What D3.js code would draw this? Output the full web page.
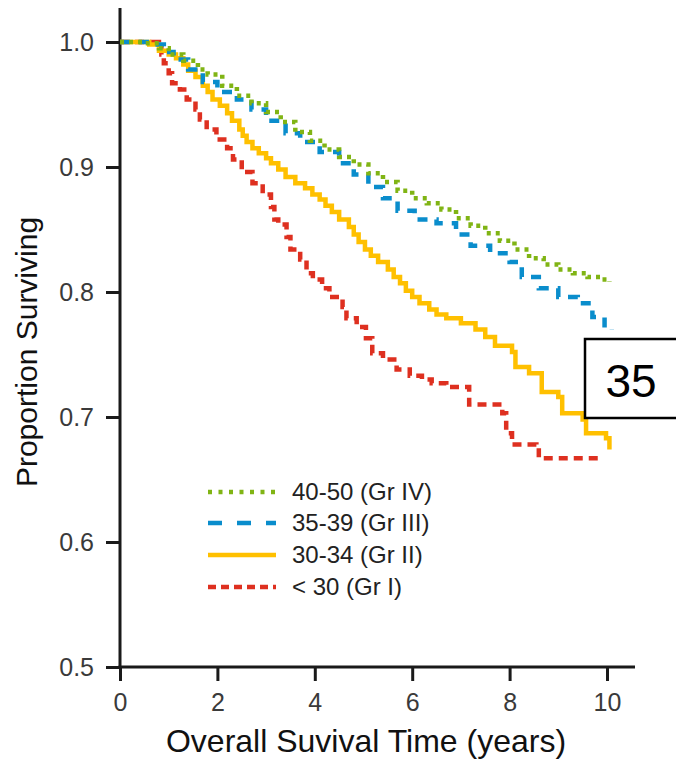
<!DOCTYPE html>
<html>
<head>
<meta charset="utf-8">
<script src="https://cdn.jsdelivr.net/npm/d3@7"></script>
<style>
  body { margin: 0; background: #fff; }
  svg { display: block; font-family: Arial, "Liberation Sans", sans-serif; }
</style>
</head>
<body>
<div id="chart"></div>
<script>
// Kaplan-Meier curves by age group, [years, proportion surviving]
const grIV = [[0,1.0],[0.5,0.999],[0.8,0.995],[1.0,0.99],[1.3,0.985],[1.6,0.978],[1.8,0.974],[2.1,0.965],[2.4,0.957],[2.7,0.951],[3.0,0.944],[3.3,0.936],[3.6,0.928],[3.9,0.921],[4.2,0.914],[4.5,0.908],[4.8,0.902],[5.1,0.895],[5.4,0.888],[5.7,0.881],[6.0,0.875],[6.3,0.871],[6.6,0.866],[6.9,0.859],[7.2,0.853],[7.5,0.847],[7.8,0.841],[8.1,0.834],[8.4,0.827],[8.7,0.822],[9.0,0.818],[9.3,0.815],[9.6,0.812],[9.9,0.81],[10.05,0.808]]
const grIII = [[0,1.0],[0.6,0.998],[0.9,0.992],[1.1,0.986],[1.4,0.978],[1.7,0.968],[2.0,0.96],[2.4,0.954],[2.7,0.946],[3.0,0.937],[3.4,0.927],[3.7,0.92],[4.1,0.912],[4.5,0.903],[4.8,0.894],[5.1,0.884],[5.4,0.875],[5.7,0.865],[6.05,0.858],[6.5,0.855],[6.9,0.846],[7.2,0.837],[7.6,0.831],[8.0,0.824],[8.25,0.812],[8.6,0.803],[9.0,0.796],[9.4,0.791],[9.7,0.78],[9.95,0.771],[10.1,0.77]]
const grII = [[0,1.0],[0.6,0.998],[0.8,0.993],[1.0,0.99],[1.15,0.987],[1.3,0.982],[1.4,0.977],[1.55,0.972],[1.7,0.965],[1.8,0.96],[1.9,0.954],[2.05,0.949],[2.2,0.943],[2.3,0.937],[2.45,0.93],[2.52,0.925],[2.6,0.92],[2.72,0.915],[2.85,0.911],[3.0,0.907],[3.1,0.903],[3.25,0.898],[3.4,0.892],[3.6,0.887],[3.8,0.883],[3.95,0.878],[4.1,0.874],[4.22,0.869],[4.35,0.864],[4.5,0.858],[4.7,0.852],[4.8,0.846],[4.9,0.84],[5.03,0.834],[5.15,0.829],[5.3,0.824],[5.5,0.818],[5.62,0.812],[5.75,0.807],[5.87,0.801],[6.0,0.796],[6.15,0.791],[6.35,0.786],[6.5,0.782],[6.7,0.779],[7.0,0.775],[7.3,0.77],[7.5,0.764],[7.7,0.757],[8.05,0.752],[8.12,0.74],[8.4,0.735],[8.66,0.72],[9.0,0.716],[9.08,0.703],[9.5,0.698],[9.57,0.687],[9.98,0.683],[10.05,0.674]]
const grI = [[0,1.0],[0.8,0.997],[0.85,0.99],[0.9,0.983],[1.0,0.975],[1.07,0.967],[1.23,0.962],[1.37,0.954],[1.55,0.946],[1.64,0.938],[1.78,0.93],[1.98,0.922],[2.2,0.915],[2.32,0.906],[2.5,0.896],[2.72,0.887],[2.93,0.878],[3.1,0.868],[3.17,0.858],[3.25,0.854],[3.42,0.844],[3.5,0.834],[3.7,0.826],[3.83,0.815],[3.96,0.81],[4.15,0.803],[4.3,0.796],[4.57,0.788],[4.65,0.779],[4.86,0.772],[5.05,0.763],[5.18,0.751],[5.4,0.746],[5.68,0.738],[5.95,0.733],[6.2,0.73],[6.4,0.727],[6.7,0.724],[7.17,0.71],[7.85,0.703],[7.93,0.687],[8.05,0.678],[8.55,0.676],[8.6,0.667],[9.9,0.667]]

const labels = ["40-50 (Gr IV)", "35-39 (Gr III)", "30-34 (Gr II)", "< 30 (Gr I)"]
const colors = ["#80b414", "#0a8dcc", "#ffc000", "#de3020"]
const xTicks = [0, 2, 4, 6, 8, 10]
const yTicks = [0.5, 0.6, 0.7, 0.8, 0.9, 1.0]

const width = 676, height = 763
const margin = ({top: 42, right: 69, bottom: 96, left: 120})

const svg = d3.create("svg")
  .attr("width", width)
  .attr("height", height)
  .attr("viewBox", [0, 0, width, height])
document.getElementById("chart").appendChild(svg.node())

const x = d3.scaleLinear()
  .domain([0, 10])
  .range([margin.left, width - margin.right])

const y = d3.scaleLinear()
  .domain([0.5, 1.0])
  .range([height - margin.bottom, margin.top])

const series = [
  {data: grIV, dash: "4,5"},
  {data: grIII, dash: "10,9"},
  {data: grII, dash: null},
  {data: grI, dash: "9,6"}
]

// axes
const yAxis = g => g
  .attr("transform", `translate(${margin.left},0)`)
  .call(d3.axisLeft(y).tickValues(yTicks).tickFormat(d3.format(".1f")).tickSize(14).tickPadding(12))
  .call(g => g.select(".domain").remove())
  .call(g => g.selectAll(".tick line").attr("stroke", "#1a1a1a").attr("stroke-width", 3))
  .call(g => g.selectAll(".tick text").attr("font-size", 25).attr("fill", "#3a3a3a").attr("font-family", null))

const xAxis = g => g
  .attr("transform", `translate(0,${y(0.5)})`)
  .call(d3.axisBottom(x).tickValues(xTicks).tickSize(14).tickPadding(12))
  .call(g => g.select(".domain").remove())
  .call(g => g.selectAll(".tick line").attr("stroke", "#1a1a1a").attr("stroke-width", 3))
  .call(g => g.selectAll(".tick text").attr("font-size", 25).attr("fill", "#3a3a3a").attr("font-family", null))

svg.append("g").call(yAxis)
svg.append("g").call(xAxis)

// axis lines run a little past the ticks
svg.append("line")
  .attr("x1", x(0)).attr("x2", x(0))
  .attr("y1", y(1.0) - 34).attr("y2", y(0.5) + 1.5)
  .attr("stroke", "#1a1a1a").attr("stroke-width", 3)
svg.append("line")
  .attr("x1", x(0) - 1.5).attr("x2", x(10) + 28)
  .attr("y1", y(0.5)).attr("y2", y(0.5))
  .attr("stroke", "#1a1a1a").attr("stroke-width", 3)

// curves
const line = d3.line()
  .x(d => x(d[0]))
  .y(d => y(d[1]))
  .curve(d3.curveStepAfter)

svg.append("g")
  .selectAll("path")
  .data(series.slice().reverse())
  .join("path")
  .attr("d", d => line(d.data))
  .attr("fill", "none")
  .attr("stroke", (d, i) => colors[series.length - 1 - i])
  .attr("stroke-width", 4.5)
  .attr("stroke-dasharray", d => d.dash)

// legend
const legendY = [492, 523, 555, 587]
const legendDash = ["4,6.5", "14,15", null, "8,5"]
const legend = svg.append("g")
  .selectAll("g")
  .data(labels)
  .join("g")
  .attr("transform", (d, i) => `translate(208,${legendY[i]})`)

legend.append("line")
  .attr("x1", 0).attr("x2", 68)
  .attr("stroke", (d, i) => colors[i])
  .attr("stroke-width", 4.5)
  .attr("stroke-dasharray", (d, i) => legendDash[i])

legend.append("text")
  .attr("x", 84)
  .attr("y", 8)
  .attr("font-size", 24)
  .attr("fill", "#222")
  .text(d => d)

// axis titles
svg.append("text")
  .attr("x", 366)
  .attr("y", 752)
  .attr("text-anchor", "middle")
  .attr("font-size", 32)
  .attr("fill", "#111")
  .text("Overall Suvival Time (years)")

svg.append("text")
  .attr("transform", "translate(37,352) rotate(-90)")
  .attr("text-anchor", "middle")
  .attr("font-size", 30)
  .attr("fill", "#111")
  .text("Proportion Surviving")

// figure-number box
svg.append("rect")
  .attr("x", 585).attr("y", 339)
  .attr("width", 110).attr("height", 79)
  .attr("fill", "#fff")
  .attr("stroke", "#000")
  .attr("stroke-width", 2.5)

svg.append("text")
  .attr("x", 631)
  .attr("y", 397)
  .attr("text-anchor", "middle")
  .attr("font-size", 46)
  .attr("fill", "#000")
  .text("35")
</script>
</body>
</html>
